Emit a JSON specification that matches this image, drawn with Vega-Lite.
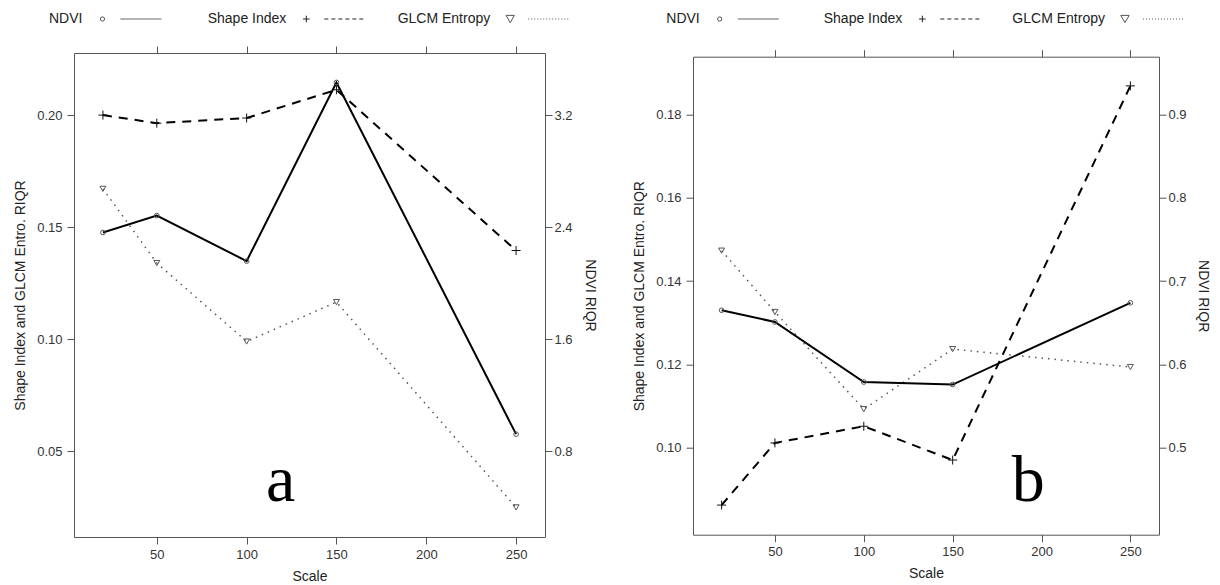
{
  "$schema": "https://vega.github.io/schema/vega-lite/v6.json",
  "padding": {"left": 13, "top": 12, "right": 12, "bottom": 0},
  "background": "white",
  "datasets": {
    "main": [
      {"panel": "a", "series": "NDVI", "scale": 20, "value": 2.362},
      {"panel": "a", "series": "NDVI", "scale": 50, "value": 2.483},
      {"panel": "a", "series": "NDVI", "scale": 100, "value": 2.158},
      {"panel": "a", "series": "NDVI", "scale": 150, "value": 3.433},
      {"panel": "a", "series": "NDVI", "scale": 250, "value": 0.923},
      {"panel": "a", "series": "Shape Index", "scale": 20, "value": 0.2},
      {"panel": "a", "series": "Shape Index", "scale": 50, "value": 0.1964},
      {"panel": "a", "series": "Shape Index", "scale": 100, "value": 0.1987},
      {"panel": "a", "series": "Shape Index", "scale": 150, "value": 0.2113},
      {"panel": "a", "series": "Shape Index", "scale": 250, "value": 0.1396},
      {"panel": "a", "series": "GLCM Entropy", "scale": 20, "value": 0.1671},
      {"panel": "a", "series": "GLCM Entropy", "scale": 50, "value": 0.134},
      {"panel": "a", "series": "GLCM Entropy", "scale": 100, "value": 0.099},
      {"panel": "a", "series": "GLCM Entropy", "scale": 150, "value": 0.1166},
      {"panel": "a", "series": "GLCM Entropy", "scale": 250, "value": 0.025},
      {"panel": "b", "series": "NDVI", "scale": 20, "value": 0.665},
      {"panel": "b", "series": "NDVI", "scale": 50, "value": 0.651},
      {"panel": "b", "series": "NDVI", "scale": 100, "value": 0.579},
      {"panel": "b", "series": "NDVI", "scale": 150, "value": 0.576},
      {"panel": "b", "series": "NDVI", "scale": 250, "value": 0.674},
      {"panel": "b", "series": "Shape Index", "scale": 20, "value": 0.0863},
      {"panel": "b", "series": "Shape Index", "scale": 50, "value": 0.1012},
      {"panel": "b", "series": "Shape Index", "scale": 100, "value": 0.1052},
      {"panel": "b", "series": "Shape Index", "scale": 150, "value": 0.0971},
      {"panel": "b", "series": "Shape Index", "scale": 250, "value": 0.1868},
      {"panel": "b", "series": "GLCM Entropy", "scale": 20, "value": 0.1473},
      {"panel": "b", "series": "GLCM Entropy", "scale": 50, "value": 0.1326},
      {"panel": "b", "series": "GLCM Entropy", "scale": 100, "value": 0.1093},
      {"panel": "b", "series": "GLCM Entropy", "scale": 150, "value": 0.1237},
      {"panel": "b", "series": "GLCM Entropy", "scale": 250, "value": 0.1194}
    ],
    "legend": [
      {"series": "NDVI"},
      {"series": "Shape Index"},
      {"series": "GLCM Entropy"}
    ],
    "notes": [
      {"panel": "a", "label": "a", "scale": 119, "value": 0.0277},
      {"panel": "b", "label": "b", "scale": 192.5, "value": 0.0873}
    ]
  },
  "hconcat": [
    {
      "bounds": "flush",
      "spacing": 27,
      "vconcat": [
        {
          "width": 471, "height": 14,
          "view": {"stroke": null},
          "data": {"name": "legend"},
          "encoding": {
            "x": {"field": "series", "type": "nominal", "scale": {"type": "point", "domain": ["NDVI", "Shape Index", "GLCM Entropy"], "padding": 0.155, "align": 0.45}, "axis": null},
            "y": {"datum": "k", "type": "nominal", "axis": null}
          },
          "layer": [
            {"mark": {"type": "text", "align": "right", "dx": -20, "fontSize": 14, "font": "Liberation Sans", "color": "#222", "baseline": "middle"}, "encoding": {"text": {"field": "series"}}},
            {"mark": {"type": "point", "filled": false, "strokeWidth": 1, "opacity": 1}, "encoding": {
              "shape": {"field": "series", "type": "nominal", "scale": {"domain": ["NDVI", "Shape Index", "GLCM Entropy"], "range": ["circle", "M-1,0L1,0M0,-1L0,1", "triangle-down"]}, "legend": null},
              "color": {"field": "series", "type": "nominal", "scale": {"domain": ["NDVI", "Shape Index", "GLCM Entropy"], "range": ["#555555", "#222222", "#555555"]}, "legend": null},
              "size": {"field": "series", "type": "nominal", "scale": {"domain": ["NDVI", "Shape Index", "GLCM Entropy"], "range": [18, 70, 32]}, "legend": null}
            }},
            {"mark": {"type": "rule", "xOffset": 18, "x2Offset": 59, "strokeWidth": 1}, "encoding": {
              "x2": {"field": "series"},
              "strokeDash": {"field": "series", "type": "nominal", "scale": {"domain": ["NDVI", "Shape Index", "GLCM Entropy"], "range": [[1, 0], [4, 3], [1, 2]]}, "legend": null},
              "color": {"field": "series", "type": "nominal", "scale": {"domain": ["NDVI", "Shape Index", "GLCM Entropy"], "range": ["#333333", "#444444", "#888888"]}, "legend": null}
            }}
          ]
        },
        {
          "width": 471, "height": 484,
          "layer": [
            {
              "layer": [
                {"data": {"name": "main"}, "transform": [{"filter": "datum.panel === 'a' && datum.series === 'GLCM Entropy'"}],
                 "mark": {"type": "line", "color": "#555555", "strokeWidth": 1.5, "strokeDash": [1.5, 5]},
                 "encoding": {
                   "x": {"field": "scale", "type": "quantitative", "scale": {"domain": [3.9, 266.1], "nice": false, "zero": false}, "axis": {"orient": "bottom", "values": [50, 100, 150, 200, 250], "title": "Scale", "labelPadding": 4, "titlePadding": 8}},
                   "y": {"field": "value", "type": "quantitative", "scale": {"domain": [0.0118, 0.2277], "nice": false, "zero": false}, "axis": {"orient": "left", "values": [0.05, 0.1, 0.15, 0.2], "format": ".2f", "title": "Shape Index and GLCM Entro. RIQR", "labelPadding": 5, "titlePadding": 9}}
                 }},
                {"data": {"name": "main"}, "transform": [{"filter": "datum.panel === 'a' && datum.series === 'Shape Index'"}],
                 "mark": {"type": "line", "color": "#000000", "strokeWidth": 2, "strokeDash": [9, 7]},
                 "encoding": {"x": {"field": "scale", "type": "quantitative"}, "y": {"field": "value", "type": "quantitative"}}},
                {"data": {"name": "main"}, "transform": [{"filter": "datum.panel === 'a' && datum.series === 'GLCM Entropy'"}],
                 "mark": {"type": "point", "shape": "triangle-down", "size": 36, "filled": false, "stroke": "#555555", "strokeWidth": 1, "opacity": 1},
                 "encoding": {"x": {"field": "scale", "type": "quantitative"}, "y": {"field": "value", "type": "quantitative"}}},
                {"data": {"name": "main"}, "transform": [{"filter": "datum.panel === 'a' && datum.series === 'Shape Index'"}],
                 "mark": {"type": "point", "shape": "M-1,0L1,0M0,-1L0,1", "size": 81, "filled": false, "stroke": "#111111", "strokeWidth": 1, "opacity": 1},
                 "encoding": {"x": {"field": "scale", "type": "quantitative"}, "y": {"field": "value", "type": "quantitative"}}},
                {"data": {"name": "notes"}, "transform": [{"filter": "datum.panel === 'a'"}],
                 "mark": {"type": "text", "font": "Liberation Serif", "fontSize": 66, "baseline": "alphabetic", "align": "center", "color": "#000000"},
                 "encoding": {"x": {"field": "scale", "type": "quantitative"}, "y": {"field": "value", "type": "quantitative"}, "text": {"field": "label"}}}
              ]
            },
            {
              "layer": [
                {"data": {"name": "main"}, "transform": [{"filter": "datum.panel === 'a' && datum.series === 'NDVI'"}],
                 "mark": {"type": "line", "color": "#000000", "strokeWidth": 2},
                 "encoding": {
                   "x": {"field": "scale", "type": "quantitative", "axis": {"orient": "top", "values": [50, 100, 150, 200, 250], "labels": false, "title": null}},
                   "y": {"field": "value", "type": "quantitative", "scale": {"domain": [0.189, 3.643], "nice": false, "zero": false}, "axis": {"orient": "right", "values": [0.8, 1.6, 2.4, 3.2], "format": ".1f", "title": "NDVI RIQR", "labelPadding": 2, "titlePadding": 10}}
                 }},
                {"data": {"name": "main"}, "transform": [{"filter": "datum.panel === 'a' && datum.series === 'NDVI'"}],
                 "mark": {"type": "point", "shape": "circle", "size": 22, "filled": false, "stroke": "#555555", "strokeWidth": 1, "opacity": 1},
                 "encoding": {"x": {"field": "scale", "type": "quantitative"}, "y": {"field": "value", "type": "quantitative"}}}
              ]
            }
          ],
          "resolve": {"scale": {"y": "independent"}, "axis": {"x": "independent"}}
        }
      ]
    },
    {
      "bounds": "flush",
      "spacing": 30.7,
      "vconcat": [
        {
          "width": 466, "height": 14,
          "view": {"stroke": null},
          "data": {"name": "legend"},
          "encoding": {
            "x": {"field": "series", "type": "nominal", "scale": {"type": "point", "domain": ["NDVI", "Shape Index", "GLCM Entropy"], "padding": 0.15, "align": 0.44}, "axis": null},
            "y": {"datum": "k", "type": "nominal", "axis": null}
          },
          "layer": [
            {"mark": {"type": "text", "align": "right", "dx": -20, "fontSize": 14, "font": "Liberation Sans", "color": "#222", "baseline": "middle"}, "encoding": {"text": {"field": "series"}}},
            {"mark": {"type": "point", "filled": false, "strokeWidth": 1, "opacity": 1}, "encoding": {
              "shape": {"field": "series", "type": "nominal", "scale": {"domain": ["NDVI", "Shape Index", "GLCM Entropy"], "range": ["circle", "M-1,0L1,0M0,-1L0,1", "triangle-down"]}, "legend": null},
              "color": {"field": "series", "type": "nominal", "scale": {"domain": ["NDVI", "Shape Index", "GLCM Entropy"], "range": ["#555555", "#222222", "#555555"]}, "legend": null},
              "size": {"field": "series", "type": "nominal", "scale": {"domain": ["NDVI", "Shape Index", "GLCM Entropy"], "range": [18, 70, 32]}, "legend": null}
            }},
            {"mark": {"type": "rule", "xOffset": 18, "x2Offset": 59, "strokeWidth": 1}, "encoding": {
              "x2": {"field": "series"},
              "strokeDash": {"field": "series", "type": "nominal", "scale": {"domain": ["NDVI", "Shape Index", "GLCM Entropy"], "range": [[1, 0], [4, 3], [1, 2]]}, "legend": null},
              "color": {"field": "series", "type": "nominal", "scale": {"domain": ["NDVI", "Shape Index", "GLCM Entropy"], "range": ["#333333", "#444444", "#888888"]}, "legend": null}
            }}
          ]
        },
        {
          "width": 466, "height": 478,
          "layer": [
            {
              "layer": [
                {"data": {"name": "main"}, "transform": [{"filter": "datum.panel === 'b' && datum.series === 'GLCM Entropy'"}],
                 "mark": {"type": "line", "color": "#555555", "strokeWidth": 1.5, "strokeDash": [1.5, 5]},
                 "encoding": {
                   "x": {"field": "scale", "type": "quantitative", "scale": {"domain": [3.9, 266.1], "nice": false, "zero": false}, "axis": {"orient": "bottom", "values": [50, 100, 150, 200, 250], "title": "Scale", "labelPadding": 4, "titlePadding": 8}},
                   "y": {"field": "value", "type": "quantitative", "scale": {"domain": [0.0792, 0.1938], "nice": false, "zero": false}, "axis": {"orient": "left", "values": [0.1, 0.12, 0.14, 0.16, 0.18], "format": ".2f", "title": "Shape Index and GLCM Entro. RIQR", "labelPadding": 5, "titlePadding": 9}}
                 }},
                {"data": {"name": "main"}, "transform": [{"filter": "datum.panel === 'b' && datum.series === 'Shape Index'"}],
                 "mark": {"type": "line", "color": "#000000", "strokeWidth": 2, "strokeDash": [9, 7]},
                 "encoding": {"x": {"field": "scale", "type": "quantitative"}, "y": {"field": "value", "type": "quantitative"}}},
                {"data": {"name": "main"}, "transform": [{"filter": "datum.panel === 'b' && datum.series === 'GLCM Entropy'"}],
                 "mark": {"type": "point", "shape": "triangle-down", "size": 36, "filled": false, "stroke": "#555555", "strokeWidth": 1, "opacity": 1},
                 "encoding": {"x": {"field": "scale", "type": "quantitative"}, "y": {"field": "value", "type": "quantitative"}}},
                {"data": {"name": "main"}, "transform": [{"filter": "datum.panel === 'b' && datum.series === 'Shape Index'"}],
                 "mark": {"type": "point", "shape": "M-1,0L1,0M0,-1L0,1", "size": 81, "filled": false, "stroke": "#111111", "strokeWidth": 1, "opacity": 1},
                 "encoding": {"x": {"field": "scale", "type": "quantitative"}, "y": {"field": "value", "type": "quantitative"}}},
                {"data": {"name": "notes"}, "transform": [{"filter": "datum.panel === 'b'"}],
                 "mark": {"type": "text", "font": "Liberation Serif", "fontSize": 66, "baseline": "alphabetic", "align": "center", "color": "#000000"},
                 "encoding": {"x": {"field": "scale", "type": "quantitative"}, "y": {"field": "value", "type": "quantitative"}, "text": {"field": "label"}}}
              ]
            },
            {
              "layer": [
                {"data": {"name": "main"}, "transform": [{"filter": "datum.panel === 'b' && datum.series === 'NDVI'"}],
                 "mark": {"type": "line", "color": "#000000", "strokeWidth": 2},
                 "encoding": {
                   "x": {"field": "scale", "type": "quantitative", "axis": {"orient": "top", "values": [50, 100, 150, 200, 250], "labels": false, "title": null}},
                   "y": {"field": "value", "type": "quantitative", "scale": {"domain": [0.396, 0.969], "nice": false, "zero": false}, "axis": {"orient": "right", "values": [0.5, 0.6, 0.7, 0.8, 0.9], "format": ".1f", "title": "NDVI RIQR", "labelPadding": 2, "titlePadding": 9}}
                 }},
                {"data": {"name": "main"}, "transform": [{"filter": "datum.panel === 'b' && datum.series === 'NDVI'"}],
                 "mark": {"type": "point", "shape": "circle", "size": 22, "filled": false, "stroke": "#555555", "strokeWidth": 1, "opacity": 1},
                 "encoding": {"x": {"field": "scale", "type": "quantitative"}, "y": {"field": "value", "type": "quantitative"}}}
              ]
            }
          ],
          "resolve": {"scale": {"y": "independent"}, "axis": {"x": "independent"}}
        }
      ]
    }
  ],
  "spacing": 35,
  "config": {
    "font": "Liberation Sans",
    "view": {"stroke": "#555555", "strokeWidth": 1},
    "axis": {
      "grid": false,
      "domain": false,
      "tickColor": "#555555",
      "tickSize": 7,
      "labelColor": "#333333",
      "labelFontSize": 13,
      "labelFont": "Liberation Sans",
      "titleFont": "Liberation Sans",
      "titleFontSize": 14,
      "titleFontWeight": "normal",
      "titleColor": "#222222"
    }
  }
}
